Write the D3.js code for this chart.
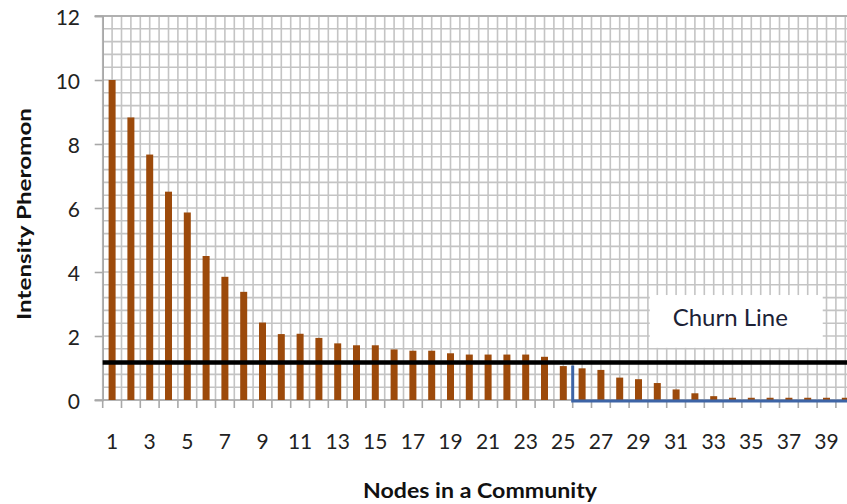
<!DOCTYPE html>
<html>
<head>
<meta charset="utf-8">
<script src="https://cdn.jsdelivr.net/npm/d3@7"></script>
<style>
  html, body { margin: 0; padding: 0; background: #fff; }
  svg { display: block; }
</style>
</head>
<body>
<svg id="chart" width="847" height="504"></svg>
<script>
// ---- data ----
const categories = d3.range(1, 41).map(String);
const values = [10.0, 8.83, 7.67, 6.51, 5.86, 4.5, 3.85, 3.38, 2.42, 2.06,
                2.07, 1.94, 1.77, 1.71, 1.71, 1.58, 1.54, 1.54, 1.46, 1.42,
                1.42, 1.42, 1.42, 1.35, 1.06, 0.99, 0.94, 0.70, 0.65, 0.53,
                0.33, 0.21, 0.12, 0.07, 0.07, 0.07, 0.07, 0.07, 0.07, 0.07];
const yTicks = [0, 2, 4, 6, 8, 10, 12];
const xTickLabels = categories.filter((d, i) => i % 2 === 0);
const churnValue = 1.17;
const churnStartCategory = "26";
const churnLabel = "Churn Line";
const xTitle = "Nodes in a Community";
const yTitle = "Intensity Pheromon";

// ---- layout ----
const svg = d3.select("#chart");
const pLeft = 102.7, pTop = 16, pBottom = 400;
const bandW = 18.8;
const pRight = pLeft + bandW * categories.length;

const x = d3.scaleBand().domain(categories).range([pLeft, pRight]).padding(0);
const y = d3.scaleLinear().domain([0, 12]).range([pBottom, pTop]);
const xIdx = d3.scaleLinear().domain([0, categories.length]).range([pLeft, pRight]);

const font = "Lato, 'Open Sans', sans-serif";

// grid: horizontal every 0.4
const g = svg.append("g");
d3.range(0, 12.0001, 0.4).forEach(v => {
  g.append("line")
    .attr("x1", pLeft).attr("x2", 847)
    .attr("y1", y(v)).attr("y2", y(v))
    .attr("stroke", "#c4c4c4").attr("stroke-width", 1.6);
});
// vertical every half category
d3.range(0, categories.length + 0.01, 0.5).forEach(k => {
  g.append("line")
    .attr("x1", xIdx(k)).attr("x2", xIdx(k))
    .attr("y1", pTop).attr("y2", pBottom)
    .attr("stroke", "#c4c4c4").attr("stroke-width", 1.6);
});
// top frame line
g.append("line").attr("x1", pLeft - 8).attr("x2", 847)
  .attr("y1", y(12)).attr("y2", y(12))
  .attr("stroke", "#b0b0b0").attr("stroke-width", 2);

// axes
const yAxis = d3.axisLeft(y).tickValues(yTicks).tickSize(8).tickFormat(d3.format("d"));
const ya = svg.append("g").attr("transform", `translate(${pLeft},0)`).call(yAxis);
ya.select(".domain").attr("stroke", "#a8a8a8").attr("stroke-width", 1.6);
ya.selectAll(".tick line").attr("stroke", "#a8a8a8").attr("stroke-width", 1.6);
ya.selectAll(".tick text").remove();

yTicks.forEach(v => {
  svg.append("text").attr("x", 80).attr("y", y(v) + 2).attr("dy", "0.35em")
    .attr("text-anchor", "end")
    .attr("font-family", font).attr("font-size", 21).attr("fill", "#222")
    .text(v);
});

const xa = svg.append("g").attr("transform", `translate(0,${pBottom})`);
xa.append("line").attr("x1", pLeft - 8).attr("x2", 847).attr("y1", 0).attr("y2", 0)
  .attr("stroke", "#a8a8a8").attr("stroke-width", 1.6);
d3.range(0, categories.length + 0.01, 1).forEach(k => {
  xa.append("line").attr("x1", xIdx(k)).attr("x2", xIdx(k)).attr("y1", 0).attr("y2", 8)
    .attr("stroke", "#a8a8a8").attr("stroke-width", 1.6);
});
xTickLabels.forEach(c => {
  xa.append("text").attr("x", x(c) + x.bandwidth() / 2).attr("y", 49)
    .attr("text-anchor", "middle")
    .attr("font-family", font).attr("font-size", 21).attr("fill", "#222")
    .text(c);
});

// bars
const bw = 7;
svg.append("g").selectAll("rect").data(values).join("rect")
  .attr("x", (d, i) => x(categories[i]) + x.bandwidth() / 2 - bw / 2)
  .attr("y", d => y(d))
  .attr("width", bw)
  .attr("height", d => y(0) - y(d))
  .attr("fill", "#9c4a0b");

// churn line
svg.append("line")
  .attr("x1", pLeft).attr("x2", 847)
  .attr("y1", y(churnValue)).attr("y2", y(churnValue))
  .attr("stroke", "#000").attr("stroke-width", 4.5);

// blue bracket
const bx = x(churnStartCategory);
svg.append("path")
  .attr("d", `M${bx},${y(churnValue) + 3}L${bx},${y(0) + 1}L${850},${y(0) + 1}`)
  .attr("fill", "none").attr("stroke", "#3d64a6").attr("stroke-width", 3);

// label box
const bx0 = xIdx(29.1), bx1 = xIdx(38.3);
svg.append("rect")
  .attr("x", bx0).attr("y", y(3.28))
  .attr("width", bx1 - bx0).attr("height", y(1.63) - y(3.28))
  .attr("fill", "#fff");
svg.append("text")
  .attr("x", (bx0 + bx1) / 2 - 6).attr("y", y(2.3))
  .attr("text-anchor", "middle")
  .attr("font-family", font).attr("font-size", 24).attr("fill", "#1c2236")
  .text(churnLabel);

// titles
svg.append("text")
  .attr("x", 480).attr("y", 498)
  .attr("text-anchor", "middle")
  .attr("font-family", font).attr("font-weight", "bold").attr("font-size", 20)
  .attr("fill", "#111")
  .attr("textLength", 234).attr("lengthAdjust", "spacingAndGlyphs")
  .text(xTitle);

svg.append("text")
  .attr("transform", "translate(31,214) rotate(-90)")
  .attr("text-anchor", "middle")
  .attr("font-family", font).attr("font-weight", "bold").attr("font-size", 18)
  .attr("fill", "#111")
  .attr("textLength", 212).attr("lengthAdjust", "spacingAndGlyphs")
  .text(yTitle);
</script>
</body>
</html>
